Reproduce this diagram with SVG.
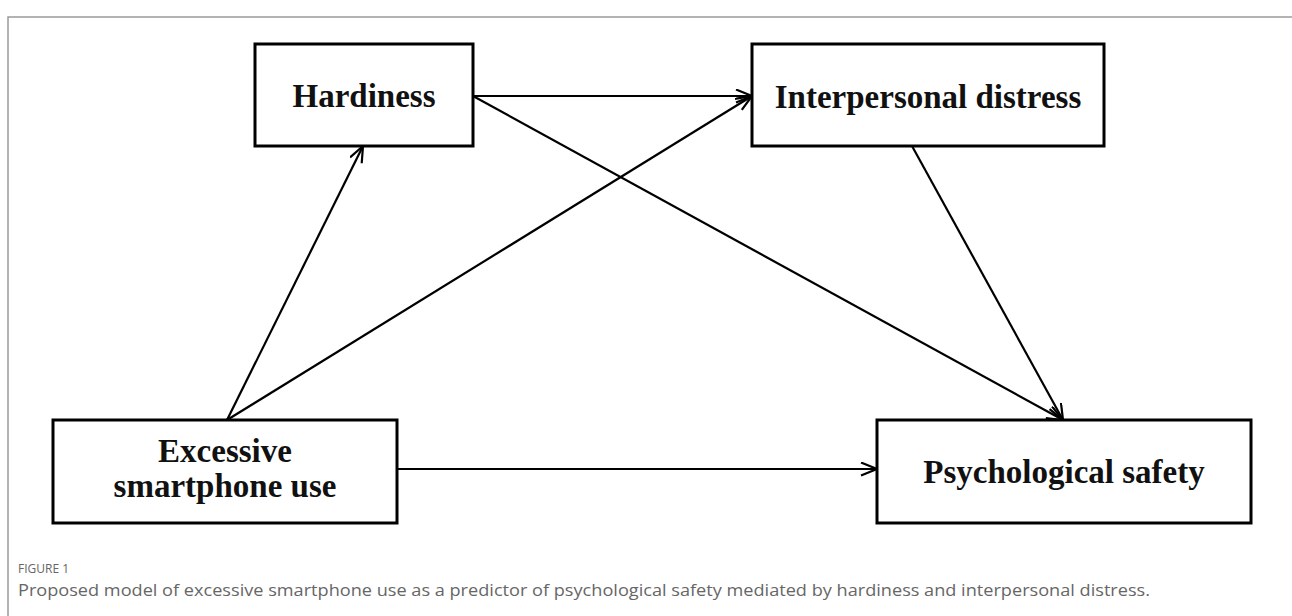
<svg xmlns="http://www.w3.org/2000/svg" width="1292" height="616" viewBox="0 0 1292 616">
<defs>
<marker id="arr" markerUnits="userSpaceOnUse" markerWidth="20" markerHeight="16" refX="17" refY="7" orient="auto">
<path d="M1,0.5 L17,7 L1,13.5" fill="none" stroke="#000" stroke-width="2.2"/>
</marker>
<style>
.box{fill:#fff;stroke:#000;stroke-width:3}
.lbl{font-family:"Liberation Serif","Times New Roman",serif;font-weight:bold;font-size:33px;fill:#111;text-anchor:middle}
.con{stroke:#000;stroke-width:2.2;fill:none;marker-end:url(#arr)}
.frame{stroke:#9a9a9a;stroke-width:1.5;fill:none}
.cap{font-family:"Open Sans","Noto Sans",sans-serif;fill:#666}
</style>
</defs>
<rect width="1292" height="616" fill="#fff"/>
<path class="frame" d="M8,616 L8,17 L1292,17"/>
<g id="connectors">
<line class="con" x1="473" y1="96" x2="752" y2="96"/>
<line class="con" x1="227" y1="420" x2="363" y2="146"/>
<line class="con" x1="227" y1="420" x2="752" y2="96"/>
<line class="con" x1="473" y1="96" x2="1063" y2="420"/>
<line class="con" x1="912" y1="146" x2="1063" y2="420"/>
<line class="con" x1="397" y1="469" x2="877" y2="469"/>
</g>
<g id="hardiness">
<rect class="box" x="255" y="44" width="218" height="102"/>
<text class="lbl" x="364" y="107">Hardiness</text>
</g>
<g id="interpersonal">
<rect class="box" x="752" y="44" width="352" height="102"/>
<text class="lbl" x="928" y="108">Interpersonal distress</text>
</g>
<g id="excessive">
<rect class="box" x="53" y="420" width="344" height="103"/>
<text class="lbl" x="225" y="462">Excessive</text>
<text class="lbl" x="225" y="497">smartphone use</text>
</g>
<g id="psych">
<rect class="box" x="877" y="420" width="374" height="103"/>
<text class="lbl" x="1064" y="483">Psychological safety</text>
</g>
<text class="cap" x="18" y="573" font-size="12">FIGURE 1</text>
<text class="cap" x="18" y="596" font-size="17" textLength="1132" lengthAdjust="spacingAndGlyphs">Proposed model of excessive smartphone use as a predictor of psychological safety mediated by hardiness and interpersonal distress.</text>
</svg>
